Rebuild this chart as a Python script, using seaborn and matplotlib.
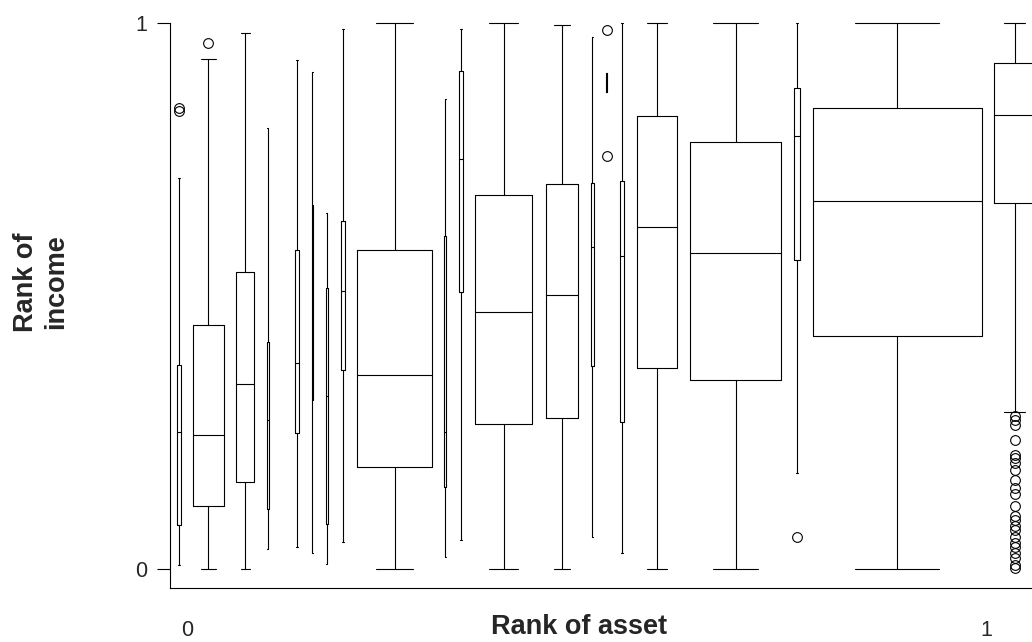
import numpy as np
import matplotlib
matplotlib.use("Agg")
import matplotlib.pyplot as plt
import seaborn as sns

sns.set_theme(style="white")
plt.rcParams['font.family'] = ['Liberation Sans', 'DejaVu Sans']

# one box per asset-rank group (five-number summaries of income rank)
asset_rank = [-0.010, 0.027, 0.073, 0.101, 0.138, 0.157, 0.175, 0.195, 0.260, 0.323, 0.343,
              0.396, 0.469, 0.507, 0.525, 0.544, 0.588, 0.686, 0.763, 0.888, 1.035]
group_n = [18, 942, 324, 4, 22, 2, 4, 16, 5625, 5, 14,
           3283, 999, 9, 2, 12, 1576, 8391, 28, 28561, 1714]
income_low = [0.007, 0.0, 0.0, 0.037, 0.041, 0.029, 0.009, 0.049, 0.0, 0.022, 0.053,
              0.0, 0.0, 0.059, 0.873, 0.029, 0.0, 0.0, 0.176, 0.0, 0.288]
income_q1 = [0.081, 0.116, 0.159, 0.110, 0.249, 0.310, 0.082, 0.365, 0.188, 0.150, 0.508,
             0.265, 0.277, 0.371, 0.873, 0.269, 0.368, 0.346, 0.565, 0.427, 0.670]
income_med = [0.252, 0.246, 0.339, 0.274, 0.377, 0.584, 0.317, 0.509, 0.355, 0.252, 0.750,
              0.471, 0.501, 0.589, 0.890, 0.573, 0.627, 0.578, 0.793, 0.674, 0.832]
income_q3 = [0.373, 0.447, 0.543, 0.415, 0.585, 0.667, 0.514, 0.637, 0.584, 0.609, 0.912,
             0.684, 0.705, 0.706, 0.908, 0.711, 0.830, 0.781, 0.881, 0.843, 0.926]
income_high = [0.715, 0.934, 0.981, 0.808, 0.931, 0.909, 0.651, 0.988, 1.0, 0.860, 0.988,
               1.0, 0.995, 0.974, 0.908, 1.0, 1.0, 1.0, 1.0, 1.0, 1.0]
income_outliers = [
    [0.838, 0.843], [0.962], [], [], [], [], [], [], [], [], [],
    [], [], [], [0.987, 0.756], [], [], [], [0.059], [],
    [0.281, 0.273, 0.264, 0.237, 0.209, 0.204, 0.195, 0.182, 0.163, 0.149, 0.138, 0.116,
     0.098, 0.090, 0.079, 0.072, 0.059, 0.048, 0.041, 0.030, 0.021, 0.008, 0.002],
]

stats = []
for i in range(len(asset_rank)):
    stats.append({
        'whislo': income_low[i], 'q1': income_q1[i], 'med': income_med[i],
        'q3': income_q3[i], 'whishi': income_high[i], 'fliers': income_outliers[i],
    })

# box width grows with sqrt of group size (like varwidth)
widths = 0.00125 * np.sqrt(group_n)

fig = plt.figure(figsize=(10.32, 6.42), dpi=100)
ax = fig.add_axes([170 / 1032, 1 - 588.3 / 642, 1 - 170 / 1032, 588.3 / 642])

line = dict(color='black', linewidth=0.8)
ax.bxp(stats, positions=asset_rank, widths=widths, capwidths=widths * 0.5,
       boxprops=line, whiskerprops=line, capprops=line, medianprops=line,
       flierprops=dict(marker='o', markerfacecolor='none', markeredgecolor='black',
                       markersize=7, markeredgewidth=0.8),
       manage_ticks=False)

ax.set_xlim(-0.0209, 1.0566)
ax.set_ylim(-0.0348, 1.0415)
ax.set_yticks([0, 1], ['0', '1'])
ax.set_xticks([0, 1], ['0', '1'])
ax.tick_params(axis='y', length=9.4, width=0.8, color='black', pad=7, labelsize=15.5,
               left=True)
ax.tick_params(axis='x', length=0, pad=23, labelsize=15.5)

sns.despine(ax=ax)
ax.spines['left'].set_bounds(-0.0348, 1.0)
for s in ['left', 'bottom']:
    ax.spines[s].set_color('black')
    ax.spines[s].set_linewidth(0.8)

ax.set_xlabel('Rank of asset', fontsize=19.5, fontweight='bold')
ax.xaxis.set_label_coords(0.4745, -0.044)
fig.text(41 / 1032, 1 - 282 / 642, 'Rank of\nincome', rotation=90, ha='center', va='center',
         fontsize=19.5, fontweight='bold', multialignment='center')

fig.savefig('out.png', dpi=100)
